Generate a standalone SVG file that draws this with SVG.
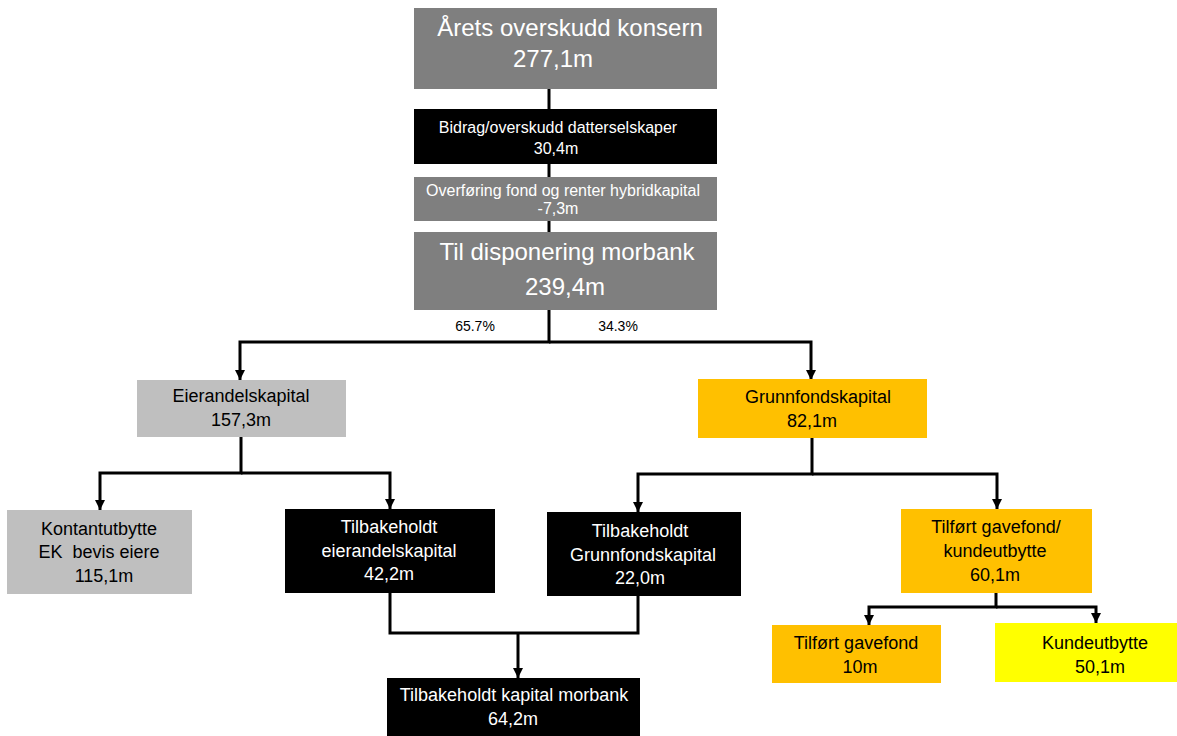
<svg xmlns="http://www.w3.org/2000/svg" width="1177" height="736" viewBox="0 0 1177 736">
<style>
text{font-family:"Liberation Sans",Arial,sans-serif;text-anchor:middle}
.w{fill:#ffffff}
.k{fill:#000000}
.big{font-size:24px}
.mid{font-size:16px}
.n{font-size:18px}
.pct{font-size:14px}
.gray{fill:#7f7f7f}
.blk{fill:#000000}
.lg{fill:#bfbfbf}
.or{fill:#ffc000}
.ye{fill:#ffff00}
.con{fill:none;stroke:#000;stroke-width:3;stroke-linejoin:miter}
</style>
<defs>
<marker id="ah" markerUnits="userSpaceOnUse" markerWidth="10" markerHeight="10" refX="10" refY="5" orient="auto">
<path d="M0,0 L10,5 L0,10 z" fill="#000"/>
</marker>
</defs>
<rect width="1177" height="736" fill="#ffffff"/>
<g id="connectors">
<path class="con" d="M549,89 V109"/>
<path class="con" d="M549,164 V177"/>
<path class="con" d="M549,221 V232"/>
<path class="con" d="M549,310 V342 H240 V380" marker-end="url(#ah)"/>
<path class="con" d="M549,342 H811 V380" marker-end="url(#ah)"/>
<path class="con" d="M241,437 V473 H100 V510" marker-end="url(#ah)"/>
<path class="con" d="M241,473 H390 V509" marker-end="url(#ah)"/>
<path class="con" d="M812,438 V474 H638 V512" marker-end="url(#ah)"/>
<path class="con" d="M812,474 H997 V509" marker-end="url(#ah)"/>
<path class="con" d="M390,593 V633 H638 V596"/>
<path class="con" d="M518,633 V678" marker-end="url(#ah)"/>
<path class="con" d="M996,593 V607 H869 V625" marker-end="url(#ah)"/>
<path class="con" d="M996,607 H1096 V623" marker-end="url(#ah)"/>
</g>
<g id="pct-labels">
<text class="pct k" x="475" y="331">65.7%</text>
<text class="pct k" x="618" y="331">34.3%</text>
</g>
<g id="aarets-overskudd">
<rect class="gray" x="414" y="8" width="303" height="81"/>
<text class="big w" x="570" y="36">Årets overskudd konsern</text>
<text class="big w" x="553" y="67">277,1m</text>
</g>
<g id="bidrag">
<rect class="blk" x="414" y="109" width="303" height="55"/>
<text class="mid w" x="558" y="133">Bidrag/overskudd datterselskaper</text>
<text class="mid w" x="556" y="154">30,4m</text>
</g>
<g id="overforing">
<rect class="gray" x="414" y="177" width="303" height="44"/>
<text class="mid w" x="563" y="196">Overføring fond og renter hybridkapital</text>
<text class="mid w" x="558" y="214">-7,3m</text>
</g>
<g id="til-disponering">
<rect class="gray" x="414" y="232" width="303" height="78"/>
<text class="big w" x="567" y="260">Til disponering morbank</text>
<text class="big w" x="565" y="295">239,4m</text>
</g>
<g id="eierandelskapital">
<rect class="lg" x="137" y="380" width="209" height="57"/>
<text class="n k" x="241" y="402">Eierandelskapital</text>
<text class="n k" x="241" y="426">157,3m</text>
</g>
<g id="grunnfondskapital">
<rect class="or" x="698" y="379" width="229" height="59"/>
<text class="n k" x="818" y="403">Grunnfondskapital</text>
<text class="n k" x="812" y="427">82,1m</text>
</g>
<g id="kontantutbytte">
<rect class="lg" x="7" y="510" width="185" height="84"/>
<text class="n k" x="99" y="535">Kontantutbytte</text>
<text class="n k" x="99" y="558" style="white-space:pre">EK  bevis eiere</text>
<text class="n k" x="104" y="582">115,1m</text>
</g>
<g id="tilbakeholdt-eierandel">
<rect class="blk" x="285" y="509" width="210" height="84"/>
<text class="n w" x="389" y="533">Tilbakeholdt</text>
<text class="n w" x="389" y="557">eierandelskapital</text>
<text class="n w" x="389" y="580">42,2m</text>
</g>
<g id="tilbakeholdt-grunnfond">
<rect class="blk" x="547" y="512" width="194" height="84"/>
<text class="n w" x="640" y="537">Tilbakeholdt</text>
<text class="n w" x="643" y="561">Grunnfondskapital</text>
<text class="n w" x="640" y="584">22,0m</text>
</g>
<g id="tilfort-gavefond-kundeutbytte">
<rect class="or" x="901" y="509" width="191" height="84"/>
<text class="n k" x="996" y="533">Tilført gavefond/</text>
<text class="n k" x="995" y="557">kundeutbytte</text>
<text class="n k" x="995" y="581">60,1m</text>
</g>
<g id="tilbakeholdt-kapital-morbank">
<rect class="blk" x="387" y="678" width="253" height="58"/>
<text class="n w" x="514" y="701">Tilbakeholdt kapital morbank</text>
<text class="n w" x="513" y="725">64,2m</text>
</g>
<g id="tilfort-gavefond">
<rect class="or" x="772" y="625" width="169" height="58"/>
<text class="n k" x="856" y="649">Tilført gavefond</text>
<text class="n k" x="860" y="673">10m</text>
</g>
<g id="kundeutbytte">
<rect class="ye" x="995" y="623" width="182" height="59"/>
<text class="n k" x="1095" y="649">Kundeutbytte</text>
<text class="n k" x="1100" y="673">50,1m</text>
</g>
</svg>
